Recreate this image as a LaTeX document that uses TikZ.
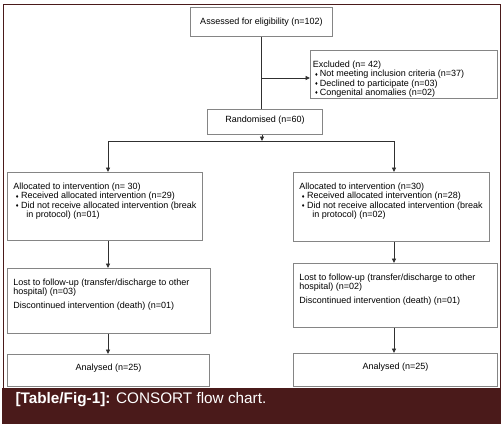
\documentclass[tikz,border=0pt]{standalone}
\usepackage{fontspec}
\setmainfont{Liberation Sans}
\usepackage{tikz}
\usetikzlibrary{arrows.meta}
\definecolor{boxgray}{HTML}{858585}
\definecolor{linegray}{HTML}{303030}
\definecolor{figmaroon}{HTML}{4A1A1A}
\newcommand{\flowtxt}[3]{\parbox[c][#2][t]{#1}{\vspace*{4.5pt}#3}}
\newcommand{\flowmark}{\raisebox{0.6pt}{\scalebox{0.6}{♦}}}
\newcommand{\flowitem}[1]{\par\hangindent=13pt\hangafter=1%
  \makebox[7.7pt][c]{\flowmark}#1}

\begin{document}
\begin{tikzpicture}[x=1pt,y=-1pt,
  every node/.style={font=\fontsize{9}{9.3}\selectfont},
  flowbox/.style={draw=boxgray,line width=0.8pt,anchor=north west,inner sep=6pt},
  flowline/.style={draw=linegray,line width=0.9pt},
  tip/.style={-{Triangle[length=4.5pt,width=4pt]}}]
\useasboundingbox (0,0) rectangle (503,423);
% frame and caption bar
\draw[figmaroon,line width=1pt] (3,388) -- (3,4) -- (500,4) -- (500,388);
\fill[figmaroon] (2,388) rectangle (501,425);
\node[anchor=base west,text=white,font=\fontsize{15.3}{17}\selectfont] (caption) at (12,403.5)
  {\textbf{[Table/Fig-1]:} CONSORT flow chart.};
% enrolment
\node[flowbox,minimum width=142pt,minimum height=29pt] (assess) at (190,7) {Assessed for eligibility (n=102)};
\node[flowbox,inner xsep=2.5pt] (excl) at (310,50)
  {\flowtxt{182pt}{36pt}{Excluded (n= 42)\par
   \makebox[7pt][c]{\flowmark}Not meeting inclusion criteria (n=37)\par
   \makebox[7pt][c]{\flowmark}Declined to participate (n=03)\par
   \makebox[7pt][c]{\flowmark}Congenital anomalies (n=02)}};
\node[flowbox,minimum width=115pt,minimum height=25pt,text depth=5pt] (rand) at (207,109) {Randomised (n=60)};
% allocation
\node[flowbox] (allocL) at (7,172) {\flowtxt{183pt}{56pt}{Allocated to intervention (n= 30)
  \flowitem{Received allocated intervention (n=29)}
  \flowitem{Did not receive allocated intervention (break\\in protocol) (n=01)}}};
\node[flowbox] (allocR) at (293,172) {\flowtxt{184pt}{57pt}{Allocated to intervention (n=30)
  \flowitem{Received allocated intervention (n=28)}
  \flowitem{Did not receive allocated intervention (break\\in protocol) (n=02)}}};
% follow-up
\node[flowbox] (lostL) at (7,268) {\flowtxt{191pt}{53pt}{Lost to follow-up (transfer/discharge to other\\hospital) (n=03)\par\vspace{4pt}
  Discontinued intervention (death) (n=01)}};
\node[flowbox] (lostR) at (293,263) {\flowtxt{192pt}{52pt}{Lost to follow-up (transfer/discharge to other\\hospital) (n=02)\par\vspace{4pt}
  Discontinued intervention (death) (n=01)}};
% analysis
\node[flowbox,minimum width=202pt,minimum height=32pt,text depth=7pt] (anaL) at (7,354) {Analysed (n=25)};
\node[flowbox,minimum width=204pt,minimum height=33pt,text depth=7pt] (anaR) at (293,353) {Analysed (n=25)};
% connectors
\coordinate (split) at (262,78);
\coordinate (fork) at (262,141);
\coordinate (forkL) at (108,141);
\coordinate (forkR) at (394,141);
\draw[flowline] (assess.south) -- (assess.south |- rand.north);
\draw[flowline,tip] (split) -- (split -| excl.west);
\draw[flowline,tip] (fork |- rand.south) -- (fork);
\draw[flowline] (forkL) -- (forkR);
\draw[flowline,tip] (forkL) -- (forkL |- allocL.north);
\draw[flowline,tip] (forkR) -- (forkR |- allocR.north);
\draw[flowline,tip] (forkL |- allocL.south) -- (forkL |- lostL.north);
\draw[flowline,tip] (forkR |- allocR.south) -- (forkR |- lostR.north);
\draw[flowline,tip] (forkL |- lostL.south) -- (forkL |- anaL.north);
\draw[flowline,tip] (forkR |- lostR.south) -- (forkR |- anaR.north);
\end{tikzpicture}
\end{document}
